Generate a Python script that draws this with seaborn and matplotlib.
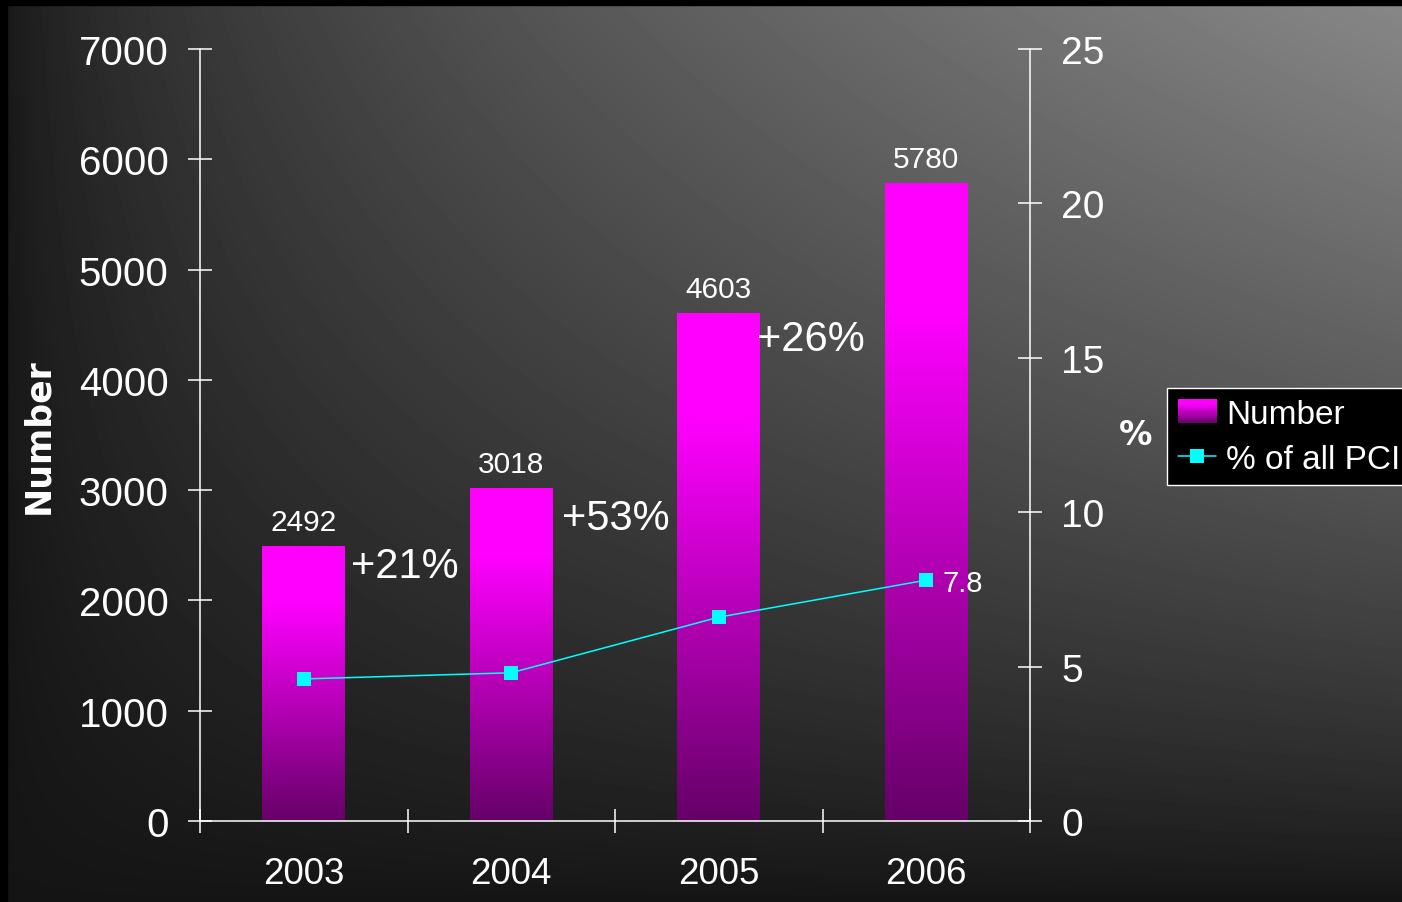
import numpy as np
import pandas as pd
import matplotlib
matplotlib.use("Agg")
import matplotlib.pyplot as plt
from matplotlib.colors import LinearSegmentedColormap
from matplotlib.patches import Patch
from matplotlib.lines import Line2D
from matplotlib.ticker import FixedLocator
import seaborn as sns

# data
years = ["2003", "2004", "2005", "2006"]
pci_number = [2492, 3018, 4603, 5780]
pct_of_all_pci = [4.6, 4.8, 6.6, 7.8]
growth_labels = ["+21%", "+53%", "+26%"]
# nudges for the growth labels (points): x, y
growth_offsets = [(4, 0), (7, -7), (-2, -4)]

sns.set_theme(style="ticks")
plt.rcParams["font.family"] = ["Liberation Sans", "DejaVu Sans"]

MAGENTA = "#ff00ff"
CYAN = "#00ffff"
bar_cmap = LinearSegmentedColormap.from_list(
    "bar", [(0.0, "#660068"), (0.8, MAGENTA), (1.0, MAGENTA)]
)

fig = plt.figure(figsize=(14.02, 9.03), dpi=100)

# background: dark slide with light corner at top right
bg = fig.add_axes([0, 0, 1, 1], zorder=-5)
gx, gy = np.meshgrid(np.linspace(0, 1, 300), np.linspace(0, 1, 200))
shade = 0.08 + 0.45 * gx ** 0.6 * (1 - gy) ** 0.8
bg.imshow(shade, cmap="gray", vmin=0, vmax=1, extent=[0, 1, 0, 1],
          origin="upper", aspect="auto", interpolation="bilinear")
bg.axhspan(1 - 6 / 903, 1, color="black")
bg.axvspan(0, 7 / 1402, color="black")
bg.set_xlim(0, 1)
bg.set_ylim(0, 1)
bg.axis("off")

ax = fig.add_axes([200 / 1402, 81 / 903, 830 / 1402, 772 / 903])
ax.patch.set_visible(False)

df = pd.DataFrame({"year": years, "number": pci_number, "pct": pct_of_all_pci})

sns.barplot(data=df, x="year", y="number", color=MAGENTA, width=0.4,
            saturation=1, ax=ax)

# swap flat fill for a vertical gradient on each bar
grad = np.linspace(0, 1, 256).reshape(-1, 1)
for bar in ax.patches:
    x0, w, h = bar.get_x(), bar.get_width(), bar.get_height()
    bar.set_facecolor("none")
    bar.set_edgecolor("none")
    ax.imshow(grad, cmap=bar_cmap, origin="lower", aspect="auto",
              extent=[x0, x0 + w, 0, h], zorder=2)

ax.bar_label(ax.containers[0], fontsize=21.5, color="white", padding=7.5)

for i, lab in enumerate(growth_labels):
    bar = ax.patches[i]
    ax.annotate(lab, xy=(bar.get_x() + bar.get_width(), bar.get_height()),
                xytext=growth_offsets[i], textcoords="offset points",
                ha="left", va="top", fontsize=30, color="white", zorder=5)

ax.set_xlim(-0.5, len(years) - 0.5)
ax.set_ylim(0, 7000)
ax.set_yticks(range(0, 7001, 1000))
ax.set_xlabel("")
ax.set_ylabel("Number", fontsize=25, fontweight="bold", color="white",
              family="DejaVu Sans", labelpad=17)

ax.xaxis.set_minor_locator(FixedLocator(np.arange(len(years) + 1) - 0.5))
ax.tick_params(axis="x", which="major", length=0, labelsize=26.5,
               colors="white", pad=25)
ax.tick_params(axis="x", which="minor", direction="inout", length=17,
               width=1.1, color="white")
ax.tick_params(axis="y", direction="inout", length=17, width=1.1,
               colors="white", labelsize=29, pad=14)

for side in ["top", "right"]:
    ax.spines[side].set_visible(False)
for side in ["left", "bottom"]:
    ax.spines[side].set_color("white")
    ax.spines[side].set_linewidth(1.1)

# secondary axis: share of all PCI
ax2 = ax.twinx()
sns.pointplot(data=df, x="year", y="pct", color=CYAN, markers="s",
              markersize=10, linewidth=1.1, errorbar=None, ax=ax2,
              markeredgewidth=0)
ax2.set_xlim(-0.5, len(years) - 0.5)
ax2.set_ylim(0, 25)
ax2.set_yticks(range(0, 26, 5))
ax2.tick_params(axis="y", direction="inout", length=17, width=1.1,
                colors="white", labelsize=28, pad=14)
ax2.set_ylabel("%", rotation=0, ha="left", va="center", fontsize=24,
               fontweight="bold", color="white", family="DejaVu Sans",
               labelpad=10)
for side in ["top", "left", "bottom"]:
    ax2.spines[side].set_visible(False)
ax2.spines["right"].set_color("white")
ax2.spines["right"].set_linewidth(1.1)

ax2.annotate(f"{pct_of_all_pci[-1]}", xy=(len(years) - 1, pct_of_all_pci[-1]),
             xytext=(12, -2), textcoords="offset points", ha="left",
             va="center", fontsize=21, color="white")

handles = [
    Patch(facecolor=MAGENTA, edgecolor="none"),
    Line2D([], [], color=CYAN, lw=1.1, marker="s", markersize=10,
           markeredgewidth=0),
]
leg = ax2.legend(handles, ["Number", "% of all PCI"], loc="upper left",
                 bbox_to_anchor=(1167 / 1402, 1 - 389 / 903),
                 bbox_transform=fig.transFigure, fontsize=24,
                 labelcolor="white", facecolor="black", edgecolor="white",
                 framealpha=1, fancybox=False, borderpad=0.32,
                 handlelength=1.15, handletextpad=0.3, labelspacing=0.42,
                 borderaxespad=0)
leg.get_frame().set_linewidth(1.0)

# gradient swatch for the bar entry in the legend
fig.canvas.draw()
sw = leg.legend_handles[0].get_window_extent().transformed(
    fig.transFigure.inverted())
sax = fig.add_axes([sw.x0, sw.y0, sw.width, sw.height], zorder=10)
sax.imshow(grad, cmap=bar_cmap, origin="lower", aspect="auto",
           extent=[0, 1, 0, 1])
sax.axis("off")

fig.savefig("out.png", dpi=100)
